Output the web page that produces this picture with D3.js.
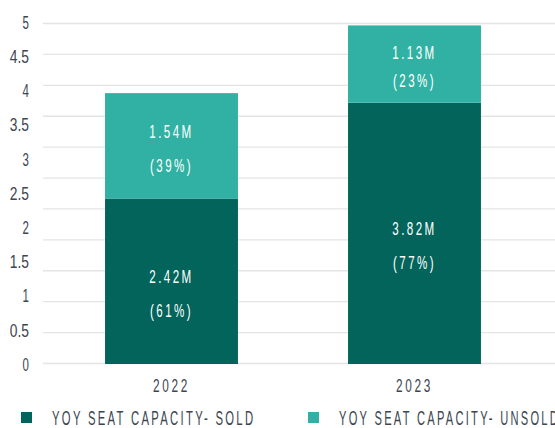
<!DOCTYPE html>
<html>
<head>
<meta charset="utf-8">
<script src="https://cdn.jsdelivr.net/npm/d3@7"></script>
<style>
  body { margin: 0; background: #fff; }
  svg text { font-family: "Liberation Sans", Arial, sans-serif; }
</style>
</head>
<body>
<div id="chart"></div>
<script>
// data
const years = ["2022", "2023"];
const soldValues = [2.42, 3.82];
const unsoldValues = [1.54, 1.13];
const soldPct = ["61%", "77%"];
const unsoldPct = ["39%", "23%"];
const yTicks = [0, 0.5, 1, 1.5, 2, 2.5, 3, 3.5, 4, 4.5, 5];
const gridTicks = [0, 0.5, 1, 1.5, 2, 2.5, 3, 3.5, 4, 4.5, 5, 5.5];
const seriesNames = ["YOY SEAT CAPACITY- SOLD", "YOY SEAT CAPACITY- UNSOLD"];

const colors = {sold: "#02645b", unsold: "#30b1a3"};
const textColor = "#3b4650";

let width = 555, height = 428;

let svg = d3.select("#chart").append("svg")
    .attr("width", width)
    .attr("height", height);

// squeeze text to a narrow look: width per character,
// scaled horizontally around its anchor point
function narrow(sel, perChar, spacing) {
    sel.attr("letter-spacing", spacing || 0)
       .each(function() {
           let t = d3.select(this);
           let ax = +t.attr("x");
           let w = this.getComputedTextLength();
           let sx = (this.textContent.length * perChar) / w;
           t.attr("transform", "translate(" + ax + ",0) scale(" + sx + ",1) translate(" + (-ax) + ",0)");
       });
}

// scales
let x = d3.scaleBand().domain(years).range([50, 536]).paddingInner(0.453).paddingOuter(0.2265);
let y = d3.scaleLinear().domain([0, 5]).range([364, 22]);
// gridlines in the source sit on their own spacing
let yGrid = d3.scaleLinear().domain([0, 5.5]).range([363.5, 23.5]);

// gridlines
svg.append("g").selectAll("line")
    .data(gridTicks)
    .enter().append("line")
    .attr("x1", 43).attr("x2", width)
    .attr("y1", d => yGrid(d)).attr("y2", d => yGrid(d))
    .attr("stroke", "#e4e4e4")
    .attr("stroke-width", 1.3);

// y labels
svg.append("g").selectAll("text")
    .data(yTicks)
    .enter().append("text")
    .attr("x", 29)
    .attr("y", d => y(d))
    .attr("dy", "0.36em")
    .attr("text-anchor", "end")
    .attr("font-size", 19)
    .attr("fill", textColor)
    .text(d => d)
    .call(narrow, 6.4, 0);

// stacked data
let stacked = years.map((yr, i) => ({
    year: yr,
    segs: [
        {key: "sold", y0: 0, y1: soldValues[i], val: soldValues[i], pct: soldPct[i]},
        {key: "unsold", y0: soldValues[i], y1: soldValues[i] + unsoldValues[i], val: unsoldValues[i], pct: unsoldPct[i]}
    ]
}));

let barG = svg.append("g").selectAll("g")
    .data(stacked)
    .enter().append("g")
    .attr("transform", d => "translate(" + x(d.year) + ",0)");

barG.selectAll("rect")
    .data(d => d.segs)
    .enter().append("rect")
    .attr("x", 0)
    .attr("width", x.bandwidth())
    .attr("y", d => y(d.y1))
    .attr("height", d => y(d.y0) - y(d.y1))
    .attr("fill", d => colors[d.key]);

// label rows inside each segment
function labelY(d, sign) {
    let mid = (y(d.y0) + y(d.y1)) / 2;
    let gap = (y(d.y0) - y(d.y1)) > 90 ? 17 : 14;
    return mid + (d.key === "sold" ? 12 : 2) + sign * gap;
}

barG.selectAll("text.val")
    .data(d => d.segs)
    .enter().append("text")
    .attr("class", "val")
    .attr("x", x.bandwidth() / 2)
    .attr("y", d => labelY(d, -1))
    .attr("dy", "0.36em")
    .attr("text-anchor", "middle")
    .attr("font-size", 19)
    .attr("fill", "#fff")
    .text(d => d.val.toFixed(2) + "M")
    .call(narrow, 8.9, 4);

barG.selectAll("text.pct")
    .data(d => d.segs)
    .enter().append("text")
    .attr("class", "pct")
    .attr("x", x.bandwidth() / 2)
    .attr("y", d => labelY(d, 1))
    .attr("dy", "0.36em")
    .attr("text-anchor", "middle")
    .attr("font-size", 19)
    .attr("fill", "#fff")
    .text(d => "(" + d.pct + ")")
    .call(narrow, 8.6, 4);

// x labels
svg.append("g").selectAll("text")
    .data(years)
    .enter().append("text")
    .attr("x", d => x(d) + x.bandwidth() / 2)
    .attr("y", 386)
    .attr("dy", "0.36em")
    .attr("text-anchor", "middle")
    .attr("font-size", 18)
    .attr("fill", textColor)
    .text(d => d)
    .call(narrow, 9.2, 4);

// legend
let legend = svg.append("g").selectAll("g")
    .data(seriesNames)
    .enter().append("g")
    .attr("transform", (d, i) => "translate(" + (21 + i * 287) + ",418)");

legend.append("rect")
    .attr("x", 0).attr("y", -6)
    .attr("width", 11).attr("height", 11)
    .attr("fill", (d, i) => i === 0 ? colors.sold : colors.unsold);

legend.append("text")
    .attr("x", 31)
    .attr("y", 0)
    .attr("dy", "0.36em")
    .attr("font-size", 19.5)
    .attr("fill", textColor)
    .text(d => d)
    .call(narrow, 8.85, 4);
</script>
</body>
</html>
